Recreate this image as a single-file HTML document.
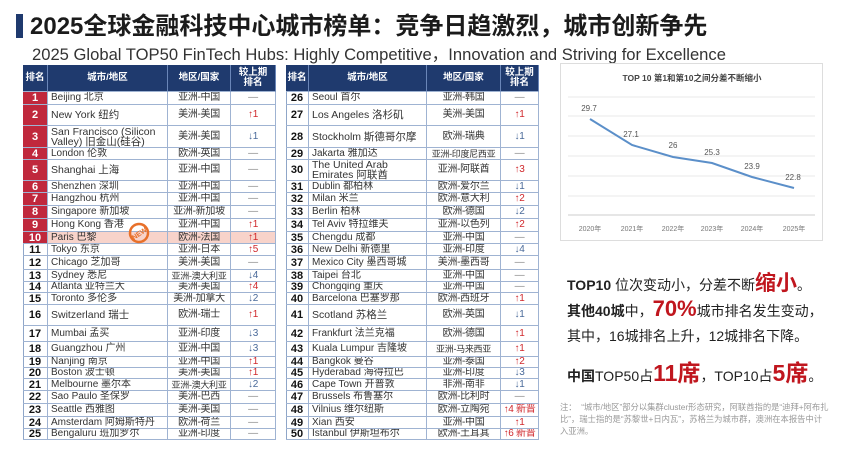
<!DOCTYPE html>
<html><head><meta charset="utf-8"><style>
*{margin:0;padding:0;box-sizing:border-box}
body{width:852px;height:459px;background:#fff;position:relative;overflow:hidden;font-family:"Liberation Sans","Noto Sans CJK SC",sans-serif;color:#222}
.a{position:absolute}
.t{position:absolute;display:flex;align-items:center;font-size:10px;line-height:10px;border-bottom:1px solid #9fb3d2;border-right:1px solid #9fb3d2;overflow:hidden;color:#333}
.c{justify-content:center;white-space:nowrap;letter-spacing:-0.3px}
.h{background:#1f3a6e;color:#fff;font-weight:bold;justify-content:center;text-align:center;font-size:9.5px;border-right:1px solid #6a86b8}
.r{font-weight:bold;font-size:11px;justify-content:center;color:#111}
.red{background:#c0283c;color:#fff}
.up{color:#d0282c}.dn{color:#4a6a9a}.eq{color:#888}
</style></head><body>
<div class="a" style="left:16px;top:14px;width:7px;height:24px;background:#1f3a6e"></div>
<div class="a" style="left:30px;top:12px;font-size:24px;font-weight:bold;color:#1b1b1b;white-space:nowrap;line-height:30px">2025全球金融科技中心城市榜单：竞争日趋激烈，城市创新争先</div>
<div class="a" style="left:32px;top:41px;font-size:16.6px;color:#333;white-space:nowrap">2025 Global TOP50 FinTech Hubs: Highly Competitive，Innovation and Striving for Excellence</div>
<div id="tb"></div>
<div class="a" style="left:560px;top:63px;width:263px;height:178px;border:1px solid #ddd"></div>
<svg class="a" style="left:0;top:0" width="852" height="459">
<text x="692" y="81" font-size="8.5" font-weight="bold" text-anchor="middle" fill="#444" font-family="Liberation Sans,Noto Sans CJK SC,sans-serif">TOP 10 第1和第10之间分差不断缩小</text>
<g stroke="#e2e2e2" stroke-width="0.8">
<line x1="568" x2="815" y1="97" y2="97"/><line x1="568" x2="815" y1="116" y2="116"/><line x1="568" x2="815" y1="136" y2="136"/><line x1="568" x2="815" y1="156" y2="156"/><line x1="568" x2="815" y1="176" y2="176"/><line x1="568" x2="815" y1="196" y2="196"/></g>
<line x1="568" x2="815" y1="215" y2="215" stroke="#ccc"/>
<polyline points="590,119 632,145 673,157 712,163 752,177 794,188" fill="none" stroke="#5b8fc9" stroke-width="2"/>
<g font-size="8" fill="#555" text-anchor="middle" font-family="Liberation Sans,sans-serif">
<text x="589" y="111">29.7</text><text x="631" y="137">27.1</text><text x="673" y="148">26</text><text x="712" y="155">25.3</text><text x="752" y="169">23.9</text><text x="793" y="180">22.8</text></g>
<g font-size="7" fill="#777" text-anchor="middle" font-family="Liberation Sans,Noto Sans CJK SC,sans-serif">
<text x="590" y="231">2020年</text><text x="632" y="231">2021年</text><text x="673" y="231">2022年</text><text x="712" y="231">2023年</text><text x="752" y="231">2024年</text><text x="794" y="231">2025年</text></g>
<g transform="translate(139,233) rotate(-35)"><circle r="9" fill="none" stroke="#e8702a" stroke-width="2.5"/><text y="3" font-size="7" font-weight="bold" fill="#e8702a" text-anchor="middle" font-family="Liberation Sans,sans-serif">NEW</text></g>
</svg>
<div class="a" style="left:567px;top:267px;font-size:14px;white-space:nowrap"><b>TOP10</b> 位次变动小，分差不断<b style="color:#c0161e;font-size:21px">缩小</b>。</div>
<div class="a" style="left:567px;top:296px;font-size:14px;white-space:nowrap"><b>其他40城</b>中，<b style="color:#c0161e;font-size:22px">70%</b>城市排名发生变动，</div>
<div class="a" style="left:567px;top:326px;font-size:14px;white-space:nowrap">其中，16城排名上升，12城排名下降。</div>
<div class="a" style="left:567px;top:354px;font-size:14px;white-space:nowrap"><b>中国</b>TOP50占<b style="color:#c0161e;font-size:23px">11席</b>，TOP10占<b style="color:#c0161e;font-size:23px">5席</b>。</div>
<div class="a" style="left:560px;top:401px;width:270px;font-size:8.3px;line-height:12px;color:#999">注：&nbsp;&nbsp;“城市/地区”部分以集群cluster形态研究，阿联酋指的是“迪拜+阿布扎比”，瑞士指的是“苏黎世+日内瓦”，苏格兰为城市群，澳洲在本报告中计入亚洲。</div>
<script>
var tops=[92,105,126,148,160,181,193,206,219,232,244,256,270,282,293,305,326,342,357,368,379,391,404,417,429,440];
var L=[["Beijing 北京","亚洲-中国","—"],["New York 纽约","美洲-美国","↑1"],["San Francisco (Silicon Valley) 旧金山(硅谷)","美洲-美国","↓1"],["London 伦敦","欧洲-英国","—"],["Shanghai 上海","亚洲-中国","—"],["Shenzhen 深圳","亚洲-中国","—"],["Hangzhou 杭州","亚洲-中国","—"],["Singapore 新加坡","亚洲-新加坡","—"],["Hong Kong 香港","亚洲-中国","↑1"],["Paris 巴黎","欧洲-法国","↑1"],["Tokyo 东京","亚洲-日本","↑5"],["Chicago 芝加哥","美洲-美国","—"],["Sydney 悉尼","亚洲-澳大利亚","↓4"],["Atlanta 亚特兰大","美洲-美国","↑4"],["Toronto 多伦多","美洲-加拿大","↓2"],["Switzerland 瑞士","欧洲-瑞士","↑1"],["Mumbai 孟买","亚洲-印度","↓3"],["Guangzhou 广州","亚洲-中国","↓3"],["Nanjing 南京","亚洲-中国","↑1"],["Boston 波士顿","美洲-美国","↑1"],["Melbourne 墨尔本","亚洲-澳大利亚","↓2"],["Sao Paulo 圣保罗","美洲-巴西","—"],["Seattle 西雅图","美洲-美国","—"],["Amsterdam 阿姆斯特丹","欧洲-荷兰","—"],["Bengaluru 班加罗尔","亚洲-印度","—"]];
var R=[["Seoul 首尔","亚洲-韩国","—"],["Los Angeles 洛杉矶","美洲-美国","↑1"],["Stockholm 斯德哥尔摩","欧洲-瑞典","↓1"],["Jakarta 雅加达","亚洲-印度尼西亚","—"],["The United Arab Emirates 阿联酋","亚洲-阿联酋","↑3"],["Dublin 都柏林","欧洲-爱尔兰","↓1"],["Milan 米兰","欧洲-意大利","↑2"],["Berlin 柏林","欧洲-德国","↓2"],["Tel Aviv 特拉维夫","亚洲-以色列","↑2"],["Chengdu 成都","亚洲-中国","—"],["New Delhi 新德里","亚洲-印度","↓4"],["Mexico City 墨西哥城","美洲-墨西哥","—"],["Taipei 台北","亚洲-中国","—"],["Chongqing 重庆","亚洲-中国","—"],["Barcelona 巴塞罗那","欧洲-西班牙","↑1"],["Scotland 苏格兰","欧洲-英国","↓1"],["Frankfurt 法兰克福","欧洲-德国","↑1"],["Kuala Lumpur 吉隆坡","亚洲-马来西亚","↑1"],["Bangkok 曼谷","亚洲-泰国","↑2"],["Hyderabad 海得拉巴","亚洲-印度","↓3"],["Cape Town 开普敦","非洲-南非","↓1"],["Brussels 布鲁塞尔","欧洲-比利时","—"],["Vilnius 维尔纽斯","欧洲-立陶宛","↑4 新晋"],["Xian 西安","亚洲-中国","↑1"],["Istanbul 伊斯坦布尔","欧洲-土耳其","↑6 新晋"]];
var h="";
function tbl(d,xs,off){
 var w=[xs[1]-xs[0],xs[2]-xs[1],xs[3]-xs[2],xs[4]-xs[3]];
 h+='<div class="a" style="left:'+xs[0]+'px;top:65px;width:'+(xs[4]-xs[0])+'px;height:375px;border:1px solid #8fa6c8"></div>';
 var hd=["排名","城市/地区","地区/国家","较上期<br>排名"];
 for(var k=0;k<4;k++)h+='<div class="t h" style="left:'+xs[k]+'px;top:65px;width:'+w[k]+'px;height:27px">'+hd[k]+'</div>';
 for(var i=0;i<25;i++){
  var y=tops[i],ht=tops[i+1]-y,n=i+1+off,r=d[i];
  var pk=(n==10)?'background:#f8d3ca;':'';
  var rc=(n<=10)?' red':'';
  h+='<div class="t r'+rc+'" style="left:'+xs[0]+'px;top:'+y+'px;width:'+w[0]+'px;height:'+ht+'px">'+n+'</div>';
  h+='<div class="t" style="'+pk+'left:'+xs[1]+'px;top:'+y+'px;width:'+w[1]+'px;height:'+ht+'px;padding-left:3px;font-size:'+(ht>18?10.5:10)+'px">'+r[0]+'</div>';
  var fs=r[1].length>6?'font-size:9px;':'';
  h+='<div class="t c" style="'+pk+fs+'left:'+xs[2]+'px;top:'+y+'px;width:'+w[2]+'px;height:'+ht+'px">'+r[1]+'</div>';
  var cl=r[2][0]=="↑"?"up":(r[2][0]=="↓"?"dn":"eq");
  h+='<div class="t c '+cl+'" style="'+pk+'left:'+xs[3]+'px;top:'+y+'px;width:'+w[3]+'px;height:'+ht+'px">'+r[2]+'</div>';
 }
}
tbl(L,[23,48,168,231,276],0);
tbl(R,[286,309,427,501,539],25);
document.getElementById("tb").innerHTML=h;
</script>
</body></html>
